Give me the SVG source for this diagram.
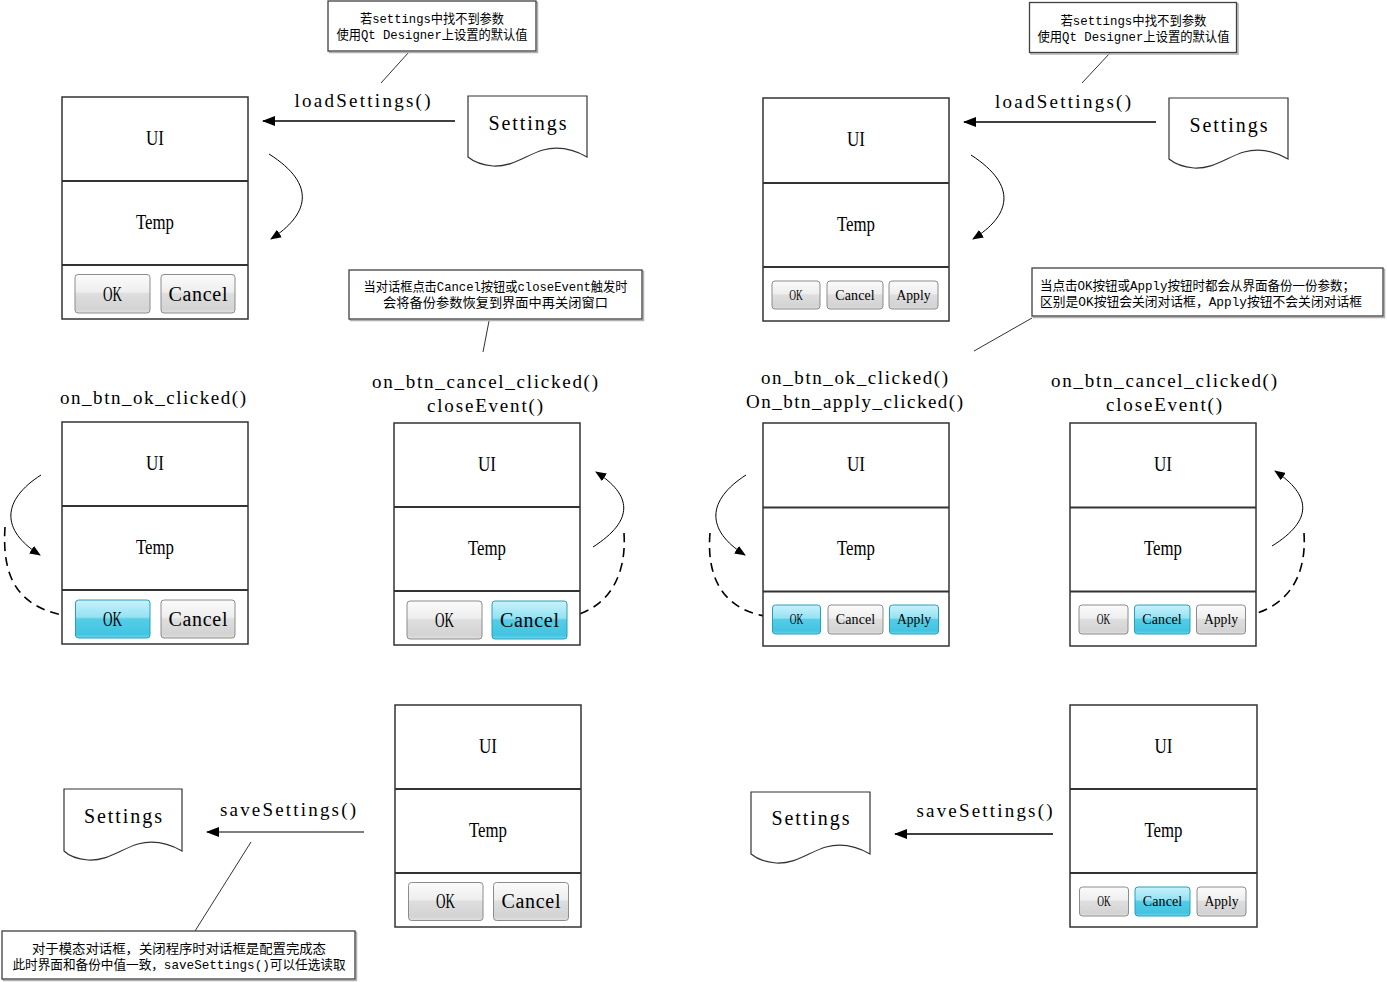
<svg xmlns="http://www.w3.org/2000/svg" width="1387" height="982" viewBox="0 0 1387 982">
<style>
.bg{fill:#fff}
.box{fill:#fff;stroke:#333;stroke-width:1.5}
.dv{stroke:#333;stroke-width:2}
.t{font-family:"Liberation Serif","Noto Sans CJK SC",serif;font-size:20px;fill:#000;text-anchor:middle}
.f{font-family:"Liberation Serif","Noto Sans CJK SC",serif;font-size:19px;fill:#000;text-anchor:middle}
.ts{font-family:"Liberation Serif","Noto Sans CJK SC",serif;font-size:14px;fill:#000;text-anchor:middle}
.n{font-family:"Liberation Mono","Noto Sans CJK SC",monospace;font-size:13px;fill:#000;text-anchor:middle}
.nl{font-family:"Liberation Mono","Noto Sans CJK SC",monospace;font-size:13px;fill:#000}
.btn{fill:url(#gg);stroke:#8c8c8c;stroke-width:1}
.btb{fill:url(#gb);stroke:#2b9ec0;stroke-width:1}
.note{fill:#fff;stroke:#404040;stroke-width:1.3}
.sh{fill:none;stroke:#b0b0b0;stroke-width:1.5}
.doc{fill:#fff;stroke:#333;stroke-width:1.2}
.ld{stroke:#333;stroke-width:1;fill:none}
.ar{stroke:#000;stroke-width:1.5;fill:none}
.cv{stroke:#000;stroke-width:1;fill:none}
.ds{stroke:#000;stroke-width:1.6;fill:none;stroke-dasharray:9 6}
</style>
<defs>
<linearGradient id="gg" x1="0" y1="0" x2="0" y2="1">
<stop offset="0" stop-color="#fbfbfb"/>
<stop offset="0.45" stop-color="#eeeeee"/>
<stop offset="0.5" stop-color="#dedede"/>
<stop offset="0.9" stop-color="#d3d3d3"/>
<stop offset="1" stop-color="#e2e2e2"/>
</linearGradient>
<linearGradient id="gb" x1="0" y1="0" x2="0" y2="1">
<stop offset="0" stop-color="#c8f2fb"/>
<stop offset="0.45" stop-color="#94e2f3"/>
<stop offset="0.5" stop-color="#55cde7"/>
<stop offset="0.9" stop-color="#42c4e1"/>
<stop offset="1" stop-color="#72d7ed"/>
</linearGradient>
<marker id="ah" markerUnits="userSpaceOnUse" markerWidth="13" markerHeight="10" refX="12" refY="5" orient="auto"><path d="M0,0 L13,5 L0,10 Z" fill="#000"/></marker>
<marker id="ac" markerUnits="userSpaceOnUse" markerWidth="11" markerHeight="9" refX="10" refY="4.5" orient="auto"><path d="M0,0 L11,4.5 L0,9 Z" fill="#000"/></marker>
</defs>
<rect class="bg" x="0" y="0" width="1387" height="982"/>

<!-- Connectors -->
<g id="connectors">
<line class="ar" x1="455" y1="121" x2="263" y2="121" marker-end="url(#ah)"/>
<text class="f" x="362.5" y="107" textLength="136" lengthAdjust="spacing">loadSettings()</text>
<line class="ar" x1="1156" y1="122" x2="964" y2="122" marker-end="url(#ah)"/>
<text class="f" x="1063" y="108" textLength="136" lengthAdjust="spacing">loadSettings()</text>
<line x1="364" y1="832" x2="207" y2="832" stroke="#808080" stroke-width="2" marker-end="url(#ah)"/>
<text class="f" x="288" y="816" textLength="136" lengthAdjust="spacing">saveSettings()</text>
<line class="ar" x1="1053" y1="834" x2="895" y2="834" marker-end="url(#ah)"/>
<text class="f" x="984.5" y="817" textLength="136" lengthAdjust="spacing">saveSettings()</text>

<path class="cv" d="M269,154 C318,185 308,215 271,239" marker-end="url(#ac)"/>
<path class="cv" d="M971,155 C1019,186 1010,216 973,239" marker-end="url(#ac)"/>

<path class="cv" d="M41,475 C2,500 0,530 40,555" marker-end="url(#ac)"/>
<path class="ds" d="M5,527 C2,575 15,610 75,617"/>

<path class="cv" d="M593,547 C635,520 632,495 596,472" marker-end="url(#ac)"/>
<path class="ds" d="M624,533 C627,580 605,610 568,617"/>

<path class="cv" d="M746,475 C707,500 705,530 745,555" marker-end="url(#ac)"/>
<path class="ds" d="M710,533 C706,580 725,612 772,617"/>

<path class="cv" d="M1272,546 C1314,520 1311,495 1275,471" marker-end="url(#ac)"/>
<path class="ds" d="M1304,533 C1307,580 1285,608 1246,616"/>

<line class="ld" x1="409" y1="52" x2="381" y2="83"/>
<line class="ld" x1="1110" y1="53" x2="1082" y2="83"/>
<line class="ld" x1="489" y1="321" x2="483" y2="352"/>
<line class="ld" x1="1032" y1="318" x2="974" y2="351"/>
<line class="ld" x1="251" y1="842" x2="195" y2="931"/>
</g>

<!-- Dialog P1 -->
<g id="dlg1">
<rect class="box" x="62" y="97" width="186" height="222"/>
<line class="dv" x1="62" y1="181" x2="248" y2="181"/>
<line class="dv" x1="62" y1="265" x2="248" y2="265"/>
<text class="t" x="155" y="145" textLength="18" lengthAdjust="spacingAndGlyphs">UI</text>
<text class="t" x="155" y="229" textLength="38" lengthAdjust="spacingAndGlyphs">Temp</text>
<rect class="btn" x="75" y="274.5" width="75" height="38.5" rx="3"/>
<rect class="btn" x="161" y="274.5" width="74" height="38.5" rx="3"/>
<text class="t" x="112.5" y="300.5" textLength="19" lengthAdjust="spacingAndGlyphs">OK</text>
<text class="t" x="198" y="300.5" textLength="59" lengthAdjust="spacing">Cancel</text>
</g>

<!-- Dialog P2 -->
<g id="dlg2">
<rect class="box" x="763" y="98" width="186" height="223"/>
<line class="dv" x1="763" y1="183" x2="949" y2="183"/>
<line class="dv" x1="763" y1="267" x2="949" y2="267"/>
<text class="t" x="856" y="146" textLength="18" lengthAdjust="spacingAndGlyphs">UI</text>
<text class="t" x="856" y="230.5" textLength="38" lengthAdjust="spacingAndGlyphs">Temp</text>
<rect class="btn" x="772" y="281" width="48" height="28" rx="3"/>
<rect class="btn" x="827" y="281" width="56" height="28" rx="3"/>
<rect class="btn" x="889" y="281" width="49" height="28" rx="3"/>
<text class="ts" x="796" y="299.5" textLength="13.5" lengthAdjust="spacingAndGlyphs">OK</text>
<text class="ts" x="855" y="299.5" textLength="39.5" lengthAdjust="spacing">Cancel</text>
<text class="ts" x="913.5" y="299.5" textLength="34" lengthAdjust="spacingAndGlyphs">Apply</text>
</g>

<!-- Dialog P3 -->
<g id="dlg3">
<text class="f" x="153" y="404" textLength="186" lengthAdjust="spacing">on_btn_ok_clicked()</text>
<rect class="box" x="62" y="422" width="186" height="222"/>
<line class="dv" x1="62" y1="506" x2="248" y2="506"/>
<line class="dv" x1="62" y1="590" x2="248" y2="590"/>
<text class="t" x="155" y="469.5" textLength="18" lengthAdjust="spacingAndGlyphs">UI</text>
<text class="t" x="155" y="554" textLength="38" lengthAdjust="spacingAndGlyphs">Temp</text>
<rect class="btb" x="75.5" y="600" width="74.5" height="38" rx="3"/>
<rect class="btn" x="161" y="600" width="74" height="38" rx="3"/>
<text class="t" x="112.5" y="625.5" textLength="19" lengthAdjust="spacingAndGlyphs">OK</text>
<text class="t" x="198" y="625.5" textLength="59" lengthAdjust="spacing">Cancel</text>
</g>

<!-- Dialog P4 -->
<g id="dlg4">
<text class="f" x="485" y="388" textLength="226" lengthAdjust="spacing">on_btn_cancel_clicked()</text>
<text class="f" x="485" y="412" textLength="116" lengthAdjust="spacing">closeEvent()</text>
<rect class="box" x="394" y="423" width="186" height="222"/>
<line class="dv" x1="394" y1="507" x2="580" y2="507"/>
<line class="dv" x1="394" y1="591" x2="580" y2="591"/>
<text class="t" x="487" y="470.5" textLength="18" lengthAdjust="spacingAndGlyphs">UI</text>
<text class="t" x="487" y="555" textLength="38" lengthAdjust="spacingAndGlyphs">Temp</text>
<rect class="btn" x="407" y="601" width="75" height="38" rx="3"/>
<rect class="btb" x="492" y="601" width="75" height="38" rx="3"/>
<text class="t" x="444.5" y="626.5" textLength="19" lengthAdjust="spacingAndGlyphs">OK</text>
<text class="t" x="529.5" y="626.5" textLength="59" lengthAdjust="spacing">Cancel</text>
</g>

<!-- Dialog P5 -->
<g id="dlg5">
<text class="f" x="854.5" y="384" textLength="187" lengthAdjust="spacing">on_btn_ok_clicked()</text>
<text class="f" x="854.5" y="408" textLength="217" lengthAdjust="spacing">On_btn_apply_clicked()</text>
<rect class="box" x="763" y="423" width="186" height="223"/>
<line class="dv" x1="763" y1="507.5" x2="949" y2="507.5"/>
<line class="dv" x1="763" y1="591.5" x2="949" y2="591.5"/>
<text class="t" x="856" y="470.5" textLength="18" lengthAdjust="spacingAndGlyphs">UI</text>
<text class="t" x="856" y="555" textLength="38" lengthAdjust="spacingAndGlyphs">Temp</text>
<rect class="btb" x="772.5" y="605" width="48" height="29" rx="3"/>
<rect class="btn" x="828" y="605" width="55" height="29" rx="3"/>
<rect class="btb" x="889.5" y="605" width="49" height="29" rx="3"/>
<text class="ts" x="796.5" y="624" textLength="13.5" lengthAdjust="spacingAndGlyphs">OK</text>
<text class="ts" x="855.5" y="624" textLength="39.5" lengthAdjust="spacing">Cancel</text>
<text class="ts" x="914" y="624" textLength="34" lengthAdjust="spacingAndGlyphs">Apply</text>
</g>

<!-- Dialog P6 -->
<g id="dlg6">
<text class="f" x="1164" y="387" textLength="226" lengthAdjust="spacing">on_btn_cancel_clicked()</text>
<text class="f" x="1164" y="411" textLength="116" lengthAdjust="spacing">closeEvent()</text>
<rect class="box" x="1070" y="423" width="186" height="223"/>
<line class="dv" x1="1070" y1="507.5" x2="1256" y2="507.5"/>
<line class="dv" x1="1070" y1="591.5" x2="1256" y2="591.5"/>
<text class="t" x="1163" y="470.5" textLength="18" lengthAdjust="spacingAndGlyphs">UI</text>
<text class="t" x="1163" y="555" textLength="38" lengthAdjust="spacingAndGlyphs">Temp</text>
<rect class="btn" x="1079" y="605" width="49" height="29" rx="3"/>
<rect class="btb" x="1134.5" y="605" width="55.5" height="29" rx="3"/>
<rect class="btn" x="1196.5" y="605" width="49" height="29" rx="3"/>
<text class="ts" x="1103.5" y="624" textLength="13.5" lengthAdjust="spacingAndGlyphs">OK</text>
<text class="ts" x="1162" y="624" textLength="39.5" lengthAdjust="spacing">Cancel</text>
<text class="ts" x="1221" y="624" textLength="34" lengthAdjust="spacingAndGlyphs">Apply</text>
</g>

<!-- Dialog P7 -->
<g id="dlg7">
<rect class="box" x="395" y="705" width="186" height="222"/>
<line class="dv" x1="395" y1="789" x2="581" y2="789"/>
<line class="dv" x1="395" y1="873" x2="581" y2="873"/>
<text class="t" x="488" y="752.5" textLength="18" lengthAdjust="spacingAndGlyphs">UI</text>
<text class="t" x="488" y="837" textLength="38" lengthAdjust="spacingAndGlyphs">Temp</text>
<rect class="btn" x="408.5" y="882.5" width="74.5" height="38" rx="3"/>
<rect class="btn" x="493.5" y="882.5" width="75" height="38" rx="3"/>
<text class="t" x="445.5" y="908" textLength="19" lengthAdjust="spacingAndGlyphs">OK</text>
<text class="t" x="531" y="908" textLength="59" lengthAdjust="spacing">Cancel</text>
</g>

<!-- Dialog P8 -->
<g id="dlg8">
<rect class="box" x="1070" y="705" width="187" height="222"/>
<line class="dv" x1="1070" y1="789" x2="1257" y2="789"/>
<line class="dv" x1="1070" y1="873" x2="1257" y2="873"/>
<text class="t" x="1163.5" y="752.5" textLength="18" lengthAdjust="spacingAndGlyphs">UI</text>
<text class="t" x="1163.5" y="837" textLength="38" lengthAdjust="spacingAndGlyphs">Temp</text>
<rect class="btn" x="1079.5" y="887" width="49" height="29" rx="3"/>
<rect class="btb" x="1135" y="887" width="55" height="29" rx="3"/>
<rect class="btn" x="1197" y="887" width="49" height="29" rx="3"/>
<text class="ts" x="1104" y="906" textLength="13.5" lengthAdjust="spacingAndGlyphs">OK</text>
<text class="ts" x="1162.5" y="906" textLength="39.5" lengthAdjust="spacing">Cancel</text>
<text class="ts" x="1221.5" y="906" textLength="34" lengthAdjust="spacingAndGlyphs">Apply</text>
</g>

<!-- Settings documents -->
<g id="settings1">
<path class="doc" d="M468,96 H587 V157 C573,149 558,146 543,150 C526,155 513,167 493,166 C482,165 474,162 468,157 Z"/>
<text class="t" x="527.5" y="130" textLength="78" lengthAdjust="spacing">Settings</text>
</g>
<g id="settings2">
<path class="doc" d="M1169,98 H1288 V159 C1274,151 1259,148 1244,152 C1227,157 1214,169 1194,168 C1183,167 1175,164 1169,159 Z"/>
<text class="t" x="1228.5" y="132" textLength="78" lengthAdjust="spacing">Settings</text>
</g>
<g id="settings3">
<path class="doc" d="M64,789 H182 V851 C168,843 153,840 138,844 C121,849 108,861 88,860 C77,859 69,856 64,851 Z"/>
<text class="t" x="123" y="823" textLength="78" lengthAdjust="spacing">Settings</text>
</g>
<g id="settings4">
<path class="doc" d="M751,792 H870 V854 C856,846 841,843 826,847 C809,852 796,864 776,863 C765,862 757,859 751,854 Z"/>
<text class="t" x="810.5" y="825" textLength="78" lengthAdjust="spacing">Settings</text>
</g>

<!-- Notes -->
<g id="note1">
<rect class="sh" x="329.5" y="2.5" width="208" height="50"/>
<rect class="note" x="328" y="1" width="208" height="50"/>
<text class="n" x="432" y="23" textLength="144" lengthAdjust="spacingAndGlyphs">若settings中找不到参数</text>
<text class="n" x="432" y="39" textLength="191" lengthAdjust="spacingAndGlyphs">使用Qt Designer上设置的默认值</text>
</g>
<g id="note2">
<rect class="sh" x="1031" y="4" width="207" height="50"/>
<rect class="note" x="1029.5" y="2.5" width="207" height="50"/>
<text class="n" x="1133.5" y="24.5" textLength="146" lengthAdjust="spacingAndGlyphs">若settings中找不到参数</text>
<text class="n" x="1133.5" y="40.5" textLength="192" lengthAdjust="spacingAndGlyphs">使用Qt Designer上设置的默认值</text>
</g>
<g id="note3">
<rect class="sh" x="350.5" y="271.5" width="293" height="49"/>
<rect class="note" x="349" y="270" width="293" height="49"/>
<text class="n" x="495.5" y="291" textLength="264" lengthAdjust="spacingAndGlyphs">当对话框点击Cancel按钮或closeEvent触发时</text>
<text class="n" x="495.5" y="307" textLength="225" lengthAdjust="spacingAndGlyphs">会将备份参数恢复到界面中再关闭窗口</text>
</g>
<g id="note4">
<rect class="sh" x="1033.5" y="269.5" width="351" height="48"/>
<rect class="note" x="1032" y="268" width="351" height="48"/>
<text class="nl" x="1040" y="290" textLength="315" lengthAdjust="spacingAndGlyphs">当点击OK按钮或Apply按钮时都会从界面备份一份参数；</text>
<text class="nl" x="1040" y="306" textLength="322" lengthAdjust="spacingAndGlyphs">区别是OK按钮会关闭对话框，Apply按钮不会关闭对话框</text>
</g>
<g id="note5">
<rect class="sh" x="3.5" y="932.5" width="353" height="48"/>
<rect class="note" x="2" y="931" width="353" height="48"/>
<text class="n" x="179" y="953" textLength="294" lengthAdjust="spacingAndGlyphs">对于模态对话框，关闭程序时对话框是配置完成态</text>
<text class="n" x="179" y="969" textLength="333" lengthAdjust="spacingAndGlyphs">此时界面和备份中值一致，saveSettings()可以任选读取</text>
</g>
</svg>
